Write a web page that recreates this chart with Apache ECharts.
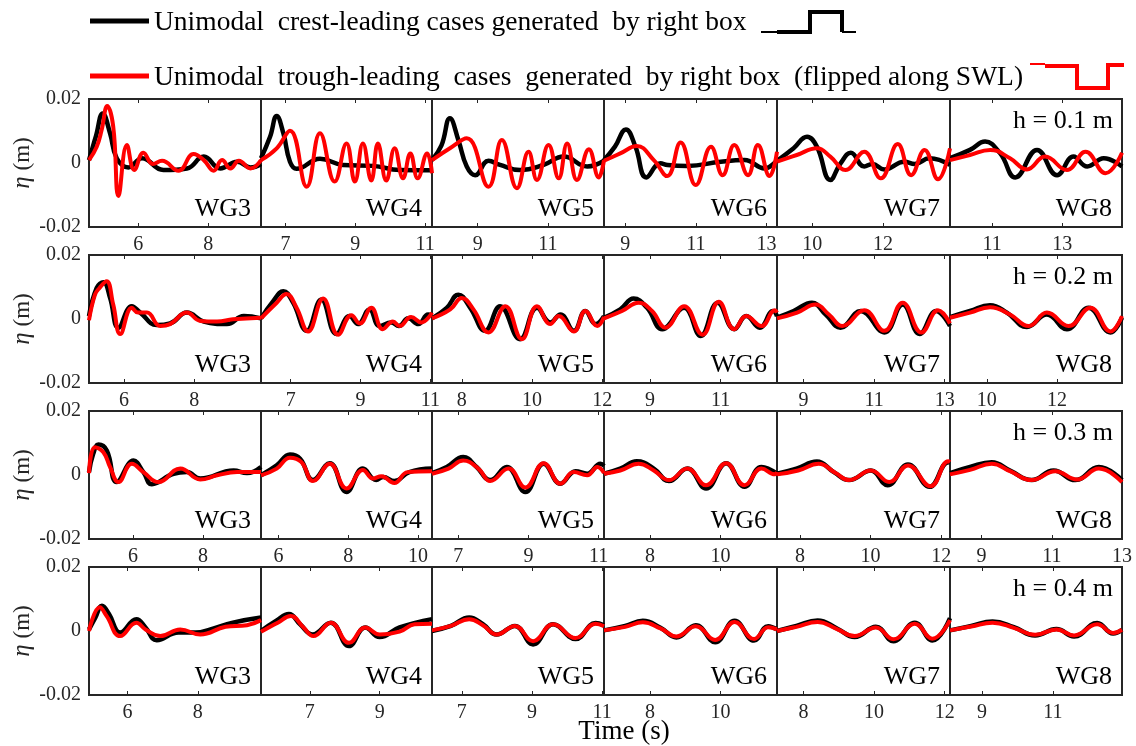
<!DOCTYPE html>
<html>
<head>
<meta charset="utf-8">
<script src="https://cdn.jsdelivr.net/npm/echarts@6/dist/echarts.min.js"></script>
<style>
  html, body { margin: 0; padding: 0; background: #ffffff; }
  #chart { width: 1136px; height: 746px; }
</style>
</head>
<body>
<div id="chart"></div>
<script>
// Wave gauges (columns) and still-water depths (rows)
const gauges = ['WG3', 'WG4', 'WG5', 'WG6', 'WG7', 'WG8'];
const depthLabels = ['h = 0.1 m', 'h = 0.2 m', 'h = 0.3 m', 'h = 0.4 m'];
const etaTicks = [-0.02, 0, 0.02];

// Time window (s) shown for each gauge, per depth
const tMin_h01 = [4.6, 6.3, 7.7, 8.4, 9.0, 9.8];
const tMax_h01 = [9.5, 11.2, 12.6, 13.3, 13.9, 14.7];
const tMin_h02 = [5.0, 6.15, 7.15, 7.7, 8.25, 8.95];
const tMax_h02 = [9.9, 11.05, 12.05, 12.6, 13.15, 13.85];
const tMin_h03 = [4.75, 5.5, 6.25, 6.7, 7.35, 8.1];
const tMax_h03 = [9.65, 10.4, 11.15, 11.6, 12.25, 13.0];
const tMin_h04 = [4.9, 5.6, 6.15, 6.7, 7.25, 8.1];
const tMax_h04 = [9.8, 10.5, 11.05, 11.6, 12.15, 12.95];

// Time tick labels (s)
const ticks_h01 = [[6, 8], [7, 9, 11], [9, 11], [9, 11, 13], [10, 12], [11, 13]];
const ticks_h02 = [[6, 8], [7, 9, 11], [8, 10, 12], [9, 11], [9, 11, 13], [10, 12]];
const ticks_h03 = [[6, 8], [6, 8, 10], [7, 9, 11], [8, 10], [8, 10, 12], [9, 11, 13]];
const ticks_h04 = [[6, 8], [7, 9], [7, 9, 11], [8, 10], [8, 10, 12], [9, 11]];

// Surface elevation records [t (s), eta (mm)], one list per gauge WG3..WG8
// Crest-leading cases
const crest_h01 = [
  [[4.60,0.9],[4.80,8.5],[4.99,15.5],[5.20,9.3],[5.39,1.5],[5.72,-1.4],[6.11,1.5],[6.72,-2.2],[7.39,-1.7],[7.87,2.0],[8.34,-1.7],[8.82,0.4],[9.20,-1.4],[9.50,-0.3]],
  [[6.30,1.5],[6.56,8.2],[6.75,14.7],[6.94,9.3],[7.13,0.4],[7.32,-1.8],[7.99,1.3],[8.65,-0.6],[9.51,-0.9],[10.27,-2.2],[11.20,-2.3]],
  [[7.70,0.9],[7.97,5.5],[8.21,14.0],[8.45,7.2],[8.69,-1.1],[8.93,-3.8],[9.31,0.7],[9.64,-0.6],[10.21,-2.2],[10.88,-0.6],[11.45,2.0],[12.12,-1.1],[12.60,0.7]],
  [[8.40,0.9],[8.71,5.1],[9.02,10.5],[9.29,5.1],[9.60,-4.5],[10.00,-0.1],[10.20,-0.6],[10.76,-0.9],[11.71,0.4],[12.38,0.9],[12.95,-1.7],[13.30,0.9]],
  [[9.00,0.7],[9.47,4.6],[9.85,8.2],[10.13,5.1],[10.51,-5.3],[10.80,-0.1],[11.09,3.2],[11.47,-1.1],[11.70,-0.3],[12.04,-2.0],[12.61,0.4],[12.90,-0.3],[13.32,1.5],[13.90,-0.6]],
  [[9.80,1.5],[10.37,4.1],[10.80,6.7],[11.23,3.0],[11.66,-4.5],[12.28,4.1],[12.85,-3.8],[13.32,2.0],[13.71,-1.1],[14.18,1.5],[14.70,-1.1]]
];
const crest_h02 = [
  [[5.00,0.9],[5.22,9.7],[5.41,11.5],[5.60,6.6],[5.84,-2.7],[6.22,4.0],[6.46,2.0],[6.93,-1.9],[7.31,-1.4],[7.79,2.0],[8.27,-0.8],[8.93,-1.6],[9.41,0.9],[9.90,0.2]],
  [[6.15,0.2],[6.50,5.6],[6.79,8.7],[7.07,5.1],[7.46,-3.7],[7.88,6.1],[8.31,-4.7],[8.69,0.9],[8.93,-1.6],[9.26,3.0],[9.55,-2.2],[9.88,-1.1],[10.10,-2.2],[10.37,0.2],[10.66,-1.6],[10.94,1.4],[11.05,1.2]],
  [[7.15,0.2],[7.57,3.5],[7.90,7.6],[8.24,3.5],[8.66,-3.7],[9.09,4.0],[9.66,-6.3],[10.14,3.5],[10.52,-1.1],[10.81,1.4],[11.19,-3.7],[11.52,2.5],[11.81,-1.6],[12.05,0.9]],
  [[7.70,0.4],[8.16,3.0],[8.54,6.4],[8.92,3.5],[9.35,-3.2],[9.97,3.5],[10.44,-5.3],[10.92,5.1],[11.39,-3.2],[11.73,0.9],[12.11,-2.7],[12.49,2.5],[12.60,0.9]],
  [[8.25,0.4],[8.72,2.5],[9.24,5.1],[9.63,1.4],[10.05,-2.7],[10.62,2.5],[11.29,-4.2],[11.81,4.5],[12.29,-4.7],[12.76,2.5],[13.15,-2.2]],
  [[8.95,0.6],[9.52,2.5],[10.09,4.3],[10.57,2.0],[11.14,-2.5],[11.71,1.4],[12.28,-3.2],[12.90,3.5],[13.52,-4.2],[13.85,0.4]]
];
const crest_h03 = [
  [[4.75,0.9],[4.87,6.6],[5.02,9.5],[5.26,7.6],[5.54,-2.2],[6.02,4.5],[6.30,0.9],[6.54,-2.9],[7.16,0.4],[7.54,0.9],[7.92,-1.1],[8.87,1.4],[9.25,0.6],[9.65,2.5]],
  [[5.50,-0.1],[5.95,3.0],[6.33,6.4],[6.62,5.1],[6.99,-1.6],[7.47,3.7],[7.95,-5.3],[8.42,2.0],[8.80,-1.6],[9.00,-0.6],[9.32,-1.9],[9.75,0.9],[10.40,2.0]],
  [[6.25,0.6],[6.67,2.5],[7.14,5.6],[7.52,2.5],[7.91,-1.6],[8.38,2.5],[8.91,-5.3],[9.43,3.5],[9.91,-2.7],[10.34,1.2],[10.67,0.4],[11.05,3.5],[11.15,2.8]],
  [[6.70,0.4],[7.16,2.0],[7.63,4.3],[8.11,2.0],[8.54,-1.9],[9.06,2.0],[9.59,-4.2],[10.16,3.7],[10.68,-3.7],[11.16,2.5],[11.60,0.4]],
  [[7.35,0.4],[7.90,2.0],[8.48,4.2],[8.96,0.9],[9.39,-1.6],[10.01,1.4],[10.48,-3.2],[11.06,3.3],[11.67,-3.7],[12.20,4.0],[12.25,3.8]],
  [[8.10,0.6],[8.67,2.5],[9.29,4.0],[9.81,1.4],[10.43,-1.6],[11.05,1.4],[11.67,-1.6],[12.34,2.5],[13.00,-1.6]]
];
const crest_h04 = [
  [[4.90,0.5],[5.08,4.2],[5.27,7.9],[5.47,5.3],[5.79,-0.5],[6.25,3.7],[6.51,1.1],[6.83,-2.9],[7.45,-0.5],[7.94,-0.5],[8.36,0.5],[9.00,2.6],[9.80,4.2]],
  [[5.60,0.0],[6.04,3.2],[6.40,5.3],[6.72,2.1],[7.08,-1.1],[7.60,2.6],[8.12,-4.7],[8.59,1.1],[9.00,-1.9],[9.57,1.1],[10.50,3.7]],
  [[6.15,0.0],[6.69,1.6],[7.21,4.2],[7.60,2.1],[7.99,-1.1],[8.51,1.6],[9.03,-4.2],[9.60,2.1],[10.24,-2.5],[10.81,2.5],[11.05,1.8]],
  [[6.70,0.2],[7.30,1.6],[7.80,3.2],[8.30,1.0],[8.75,-2.0],[9.30,1.8],[9.85,-3.5],[10.40,3.2],[10.95,-3.0],[11.35,1.5],[11.60,0.5]],
  [[7.25,0.0],[7.80,1.6],[8.40,3.3],[8.95,0.8],[9.45,-1.9],[10.05,1.3],[10.55,-3.2],[11.15,2.6],[11.65,-3.0],[12.15,4.0]],
  [[8.10,0.2],[8.70,1.6],[9.30,3.0],[9.90,1.2],[10.50,-1.4],[11.10,0.6],[11.60,-1.7],[12.25,2.5],[12.70,-0.8],[12.95,0.4]]
];

// Trough-leading cases (flipped along SWL)
const trough_h01 = [
  [[4.60,0.9],[4.82,5.1],[4.96,10.3],[5.12,17.8],[5.29,11.4],[5.44,-10.3],[5.68,5.6],[5.89,-2.2],[6.15,3.2],[6.42,-0.3],[6.68,0.7],[7.15,-2.4],[7.58,2.8],[7.87,0.9],[8.15,-2.4],[8.39,0.9],[8.63,-1.7],[8.87,0.7],[9.20,-1.7],[9.50,0.9]],
  [[6.30,0.9],[6.75,4.6],[7.13,10.1],[7.61,-7.4],[7.99,9.3],[8.41,-5.8],[8.75,6.1],[8.99,-5.8],[9.22,6.1],[9.46,-5.5],[9.65,6.1],[9.89,-5.5],[10.13,4.6],[10.37,-4.8],[10.58,3.0],[10.79,-4.8],[11.06,3.0],[11.20,-3.2]],
  [[7.70,0.9],[8.21,4.6],[8.69,7.7],[9.31,-7.4],[9.69,7.2],[10.12,-7.9],[10.45,3.5],[10.69,-5.3],[11.02,5.6],[11.31,-4.8],[11.55,6.1],[11.83,-5.3],[12.17,4.3],[12.45,-4.5],[12.60,0.9]],
  [[8.40,0.7],[8.86,3.0],[9.33,5.3],[9.81,0.9],[10.19,-4.1],[10.57,6.4],[11.00,-6.9],[11.43,5.1],[11.76,-3.8],[12.09,5.6],[12.48,-3.8],[12.76,5.6],[13.09,-4.1],[13.30,3.5]],
  [[9.00,0.4],[9.56,2.5],[10.13,4.6],[10.51,2.0],[10.94,-2.2],[11.47,3.5],[11.94,-4.8],[12.42,5.9],[12.80,-3.8],[13.18,4.1],[13.56,-5.1],[13.90,4.6]],
  [[9.80,0.9],[10.37,2.5],[10.94,4.1],[11.51,1.5],[11.99,-2.0],[12.51,2.0],[13.13,-2.2],[13.66,3.5],[14.23,-3.2],[14.70,3.2]]
];
const trough_h02 = [
  [[5.00,-0.4],[5.17,7.6],[5.30,9.7],[5.50,11.8],[5.69,4.5],[5.89,-4.7],[6.22,3.5],[6.40,2.0],[6.65,2.0],[7.03,-2.2],[7.31,-1.6],[7.79,2.0],[8.17,-0.6],[8.65,-0.8],[9.10,-0.1],[9.90,0.4]],
  [[6.15,0.2],[6.60,5.1],[6.88,7.8],[7.17,3.5],[7.50,-3.9],[7.93,6.4],[8.36,-4.9],[8.74,1.2],[8.98,-1.4],[9.31,3.5],[9.64,-3.2],[9.93,-0.8],[10.12,-2.2],[10.45,0.6],[10.74,-1.1],[11.05,2.0]],
  [[7.15,0.2],[7.67,3.0],[8.00,6.6],[8.33,3.0],[8.76,-4.2],[9.24,4.0],[9.71,-6.3],[10.14,4.0],[10.52,-1.6],[10.76,0.9],[11.19,-3.9],[11.52,2.5],[11.86,-2.2],[12.05,0.6]],
  [[7.70,0.2],[8.21,2.5],[8.68,5.1],[9.06,2.5],[9.44,-2.7],[9.97,4.0],[10.49,-4.9],[10.95,5.4],[11.39,-3.2],[11.73,0.9],[12.16,-2.2],[12.54,2.7],[12.60,2.0]],
  [[8.25,0.2],[8.82,2.0],[9.34,4.5],[9.72,1.4],[10.10,-2.2],[10.72,2.7],[11.29,-3.7],[11.81,5.1],[12.34,-4.2],[12.81,2.7],[13.15,-1.4]],
  [[8.95,0.4],[9.52,2.0],[10.09,3.7],[10.66,1.4],[11.19,-2.2],[11.71,2.0],[12.33,-2.2],[12.95,3.5],[13.52,-3.9],[13.85,0.9]]
];
const trough_h03 = [
  [[4.75,0.6],[4.92,8.7],[5.16,7.1],[5.35,2.5],[5.59,-2.2],[5.97,3.5],[6.30,0.9],[6.73,-2.2],[7.35,2.0],[7.92,-1.4],[8.40,-0.1],[8.97,0.9],[9.65,0.9]],
  [[5.50,-0.1],[5.95,2.0],[6.33,5.4],[6.66,4.0],[6.99,-1.9],[7.47,3.5],[7.95,-4.2],[8.42,1.6],[8.71,-1.1],[8.95,-0.4],[9.32,-2.5],[9.70,0.9],[10.40,1.2]],
  [[6.25,0.4],[6.72,2.0],[7.14,4.5],[7.57,2.0],[7.91,-1.9],[8.43,2.0],[8.91,-3.9],[9.43,3.7],[9.91,-2.7],[10.29,0.9],[10.67,-0.1],[10.96,2.5],[11.15,0.6]],
  [[6.70,0.4],[7.16,1.4],[7.68,3.5],[8.11,1.4],[8.54,-1.6],[9.06,2.0],[9.59,-3.2],[10.16,3.7],[10.68,-3.2],[11.16,2.0],[11.54,0.2],[11.60,0.9]],
  [[7.35,0.2],[7.95,1.4],[8.53,3.5],[9.01,0.6],[9.39,-1.6],[10.01,1.4],[10.53,-2.2],[11.06,3.0],[11.70,-3.5],[12.20,4.3],[12.25,4.0]],
  [[8.10,0.2],[8.67,1.6],[9.29,3.5],[9.81,1.2],[10.43,-1.6],[11.10,1.2],[11.72,-1.4],[12.34,2.0],[13.00,-2.2]]
];
const trough_h04 = [
  [[4.90,0.0],[5.21,7.4],[5.40,4.7],[5.79,-1.6],[6.25,2.6],[6.51,0.5],[6.93,-1.6],[7.50,0.5],[8.07,-1.1],[8.79,1.3],[9.40,1.8],[9.80,3.4]],
  [[5.60,-0.2],[6.08,2.6],[6.45,4.7],[6.82,1.1],[7.10,-1.6],[7.60,2.6],[8.12,-3.7],[8.59,1.1],[9.00,-1.1],[9.57,-0.2],[10.00,2.1],[10.50,2.3]],
  [[6.15,0.2],[6.69,1.6],[7.21,3.7],[7.60,1.8],[7.99,-1.1],[8.51,1.6],[9.03,-3.2],[9.60,2.1],[10.24,-2.2],[10.81,2.3],[11.05,1.5]],
  [[6.70,0.2],[7.30,1.3],[7.80,2.7],[8.30,0.8],[8.75,-1.7],[9.30,1.5],[9.85,-2.8],[10.40,2.8],[10.95,-2.5],[11.35,1.2],[11.60,0.5]],
  [[7.25,0.0],[7.80,1.3],[8.40,2.8],[8.95,0.6],[9.45,-1.6],[10.05,1.1],[10.55,-2.6],[11.15,2.3],[11.65,-2.4],[12.15,3.4]],
  [[8.10,0.2],[8.70,1.4],[9.30,2.6],[9.90,1.0],[10.50,-1.2],[11.10,0.5],[11.60,-1.4],[12.25,2.1],[12.70,-0.6],[12.95,0.4]]
];

// Row-wise collections
const tMinRows = [tMin_h01, tMin_h02, tMin_h03, tMin_h04];
const tMaxRows = [tMax_h01, tMax_h02, tMax_h03, tMax_h04];
const tickRows = [ticks_h01, ticks_h02, ticks_h03, ticks_h04];
const crestRows = [crest_h01, crest_h02, crest_h03, crest_h04];
const troughRows = [trough_h01, trough_h02, trough_h03, trough_h04];

// Panel layout (px)
const colLeft = [89, 261, 432, 604, 777, 950];
const colRight = [261, 432, 604, 777, 950, 1122];
const rowTop = [99, 255, 411, 567];
const rowH = 128;
const FONT = '"Liberation Serif", "Times New Roman", Times, serif';
const AXIS_COLOR = '#262626';

const toMetres = rec => rec.map(p => [p[0], p[1] / 1000]);

const grids = [], xAxes = [], yAxes = [], series = [], graphics = [];

for (let r = 0; r < 4; r++) {
  for (let c = 0; c < 6; c++) {
    const g = grids.length;
    grids.push({
      left: colLeft[c], top: rowTop[r],
      width: colRight[c] - colLeft[c], height: rowH,
      show: true, borderColor: AXIS_COLOR, borderWidth: 2,
      backgroundColor: '#ffffff', containLabel: false, outerBoundsMode: 'none'
    });
    const ticks = tickRows[r][c];
    // bottom axis with labels
    xAxes.push({
      gridIndex: g, type: 'value', position: 'bottom',
      min: tMinRows[r][c], max: tMaxRows[r][c],
      axisLine: { show: false, onZero: false },
      axisTick: { show: true, inside: true, length: 4, customValues: ticks,
                  lineStyle: { color: AXIS_COLOR, width: 1 } },
      axisLabel: { show: true, customValues: ticks, margin: 8,
                   fontFamily: FONT, fontSize: 20, color: AXIS_COLOR },
      splitLine: { show: false }
    });
    // top axis: tick marks only
    xAxes.push({
      gridIndex: g, type: 'value', position: 'top',
      min: tMinRows[r][c], max: tMaxRows[r][c],
      axisLine: { show: false, onZero: false },
      axisTick: { show: true, inside: true, length: 4, customValues: ticks,
                  lineStyle: { color: AXIS_COLOR, width: 1 } },
      axisLabel: { show: false },
      splitLine: { show: false }
    });
    const firstCol = c === 0;
    yAxes.push({
      gridIndex: g, type: 'value', min: -0.02, max: 0.02,
      axisLine: { show: false, onZero: false },
      axisTick: { show: false },
      axisLabel: {
        show: firstCol, customValues: etaTicks, margin: 8,
        fontFamily: FONT, fontSize: 20, color: AXIS_COLOR,
        formatter: v => (Math.abs(v) < 1e-9 ? '0' : v.toFixed(2))
      },
      splitLine: { show: false },
      name: firstCol ? '{i|η} (m)' : '',
      nameLocation: 'middle', nameGap: 54,
      nameTextStyle: {
        fontFamily: FONT, fontSize: 23, color: AXIS_COLOR,
        rich: { i: { fontFamily: FONT, fontStyle: 'italic', fontSize: 25, color: AXIS_COLOR } }
      }
    });
    const common = {
      type: 'line', xAxisIndex: 2 * g, yAxisIndex: g,
      showSymbol: false, symbol: 'none', smooth: 0.45, clip: true,
      animation: false, silent: true
    };
    series.push(Object.assign({}, common, {
      name: 'crest', data: toMetres(crestRows[r][c]), z: 3,
      lineStyle: { color: '#000000', width: 4.5 }
    }));
    series.push(Object.assign({}, common, {
      name: 'trough', data: toMetres(troughRows[r][c]), z: 4,
      lineStyle: { color: '#ff0000', width: 4 }
    }));
    // gauge name inside the panel
    graphics.push({
      type: 'text', x: colRight[c] - 10, y: rowTop[r] + 110, z: 100,
      style: { text: gauges[c], font: '26px ' + FONT, fill: '#000',
               align: 'right', verticalAlign: 'middle',
               textAlign: 'right', textVerticalAlign: 'middle' }
    });
  }
  // depth label in the last panel of each row
  graphics.push({
    type: 'text', x: colRight[5] - 9, y: rowTop[r] + 22, z: 100,
    style: { text: depthLabels[r], font: '26px ' + FONT, fill: '#000',
             align: 'right', verticalAlign: 'middle',
             textAlign: 'right', textVerticalAlign: 'middle' }
  });
}

// Common time axis title
graphics.push({
  type: 'text', x: 624, y: 732, z: 100,
  style: { text: 'Time (s)', font: '27px ' + FONT, fill: '#000',
           align: 'center', verticalAlign: 'middle',
           textAlign: 'center', textVerticalAlign: 'middle' }
});

// Legend: line samples, captions and box-motion glyphs
const legendItems = [
  { color: '#000000', y: 21, text: 'Unimodal  crest-leading cases generated  by right box' },
  { color: '#ff0000', y: 76, text: 'Unimodal  trough-leading  cases  generated  by right box  (flipped along SWL)' }
];
legendItems.forEach(item => {
  graphics.push({
    type: 'line', z: 100,
    shape: { x1: 90, y1: item.y, x2: 149, y2: item.y },
    style: { stroke: item.color, lineWidth: 5 }
  });
  graphics.push({
    type: 'text', x: 154, y: item.y + 2, z: 100,
    style: { text: item.text, font: '27.5px ' + FONT, fill: '#000',
             align: 'left', verticalAlign: 'middle',
             textAlign: 'left', textVerticalAlign: 'middle' }
  });
});
// crest-leading box stroke (up step)
graphics.push({ type: 'line', z: 100, shape: { x1: 761, y1: 32, x2: 777, y2: 32 },
  style: { stroke: '#000', lineWidth: 2 } });
graphics.push({ type: 'polyline', z: 100,
  shape: { points: [[777, 32], [810, 32], [810, 12], [842, 12], [842, 32]] },
  style: { stroke: '#000', lineWidth: 4, fill: null, lineJoin: 'miter' } });
graphics.push({ type: 'line', z: 100, shape: { x1: 842, y1: 32, x2: 856, y2: 32 },
  style: { stroke: '#000', lineWidth: 2 } });
// trough-leading box stroke (down step)
graphics.push({ type: 'line', z: 100, shape: { x1: 1030, y1: 64, x2: 1045, y2: 64 },
  style: { stroke: '#ff0000', lineWidth: 2 } });
graphics.push({ type: 'polyline', z: 100,
  shape: { points: [[1045, 66], [1077, 66], [1077, 88], [1108, 88], [1108, 65], [1124, 65]] },
  style: { stroke: '#ff0000', lineWidth: 4, fill: null, lineJoin: 'miter' } });

const chart = echarts.init(document.getElementById('chart'), null, { renderer: 'canvas' });
chart.setOption({
  backgroundColor: '#ffffff',
  animation: false,
  grid: grids,
  xAxis: xAxes,
  yAxis: yAxes,
  series: series,
  graphic: graphics
});
</script>
</body>
</html>
